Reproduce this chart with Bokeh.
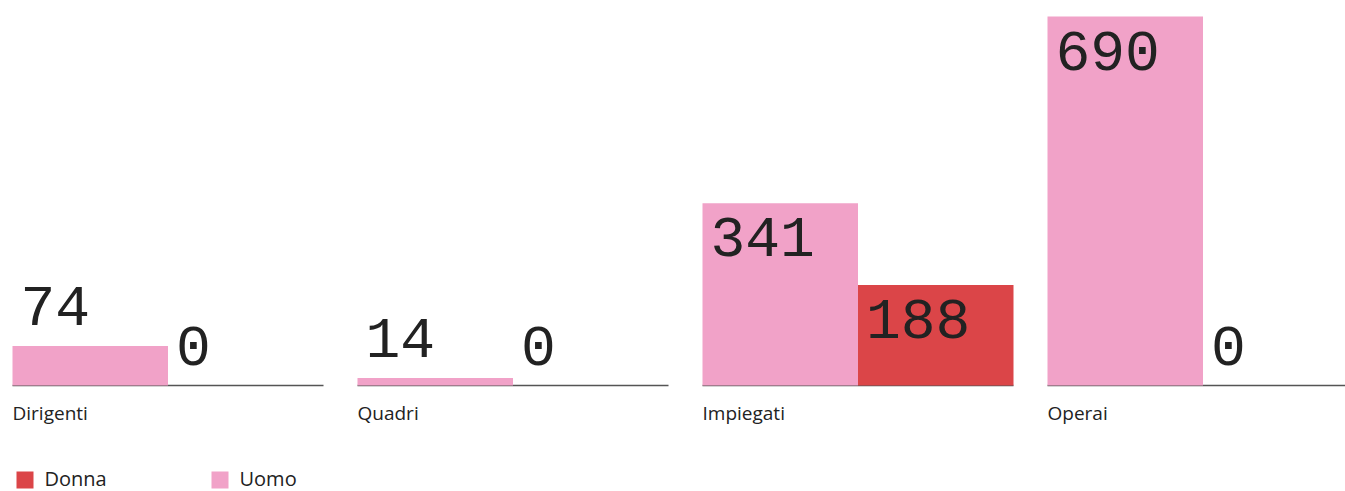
from bokeh.plotting import figure
from bokeh.models import Range1d
from bokeh.core.properties import value
from bokeh.embed import file_html
from bokeh.resources import INLINE

categories = ["Dirigenti", "Quadri", "Impiegati", "Operai"]
uomo = [74, 14, 341, 690]
donna = [0, 0, 188, 0]
series_names = ["Donna", "Uomo"]
colors = {"Uomo": "#F1A2C8", "Donna": "#DB4548"}

W, H = 1345, 491
BASE_Y = 385.0
K = 369.0 / 690.0
def y_of(page_y):
    return (BASE_Y - page_y) / K

p = figure(width=W, height=H, output_backend="svg", toolbar_location=None,
           x_range=Range1d(0, W), y_range=Range1d(y_of(H), y_of(0)),
           min_border=0, outline_line_color=None)
p.xaxis.visible = False
p.yaxis.visible = False
p.xgrid.visible = False
p.ygrid.visible = False
p.background_fill_color = "white"
p.border_fill_color = "white"

GROUP_X0, GROUP_STEP, BAR_W = 12, 345, 155.5
num_font = value("Liberation Mono")
lab_font = value("Open Sans")
NUM_FS = 58

for i, cat in enumerate(categories):
    gx = GROUP_X0 + i * GROUP_STEP
    p.segment(x0=[gx], y0=[0], x1=[gx + 2 * BAR_W], y1=[0], line_color="#555555", line_width=1.5)
    for j, (name, vals) in enumerate((("Uomo", uomo), ("Donna", donna))):
        v = vals[i]
        left = gx + j * BAR_W
        if v > 0:
            p.quad(left=[left], right=[left + BAR_W], bottom=[0], top=[v],
                   fill_color=colors[name], line_color=None)
        inside = v * K > 80
        p.text(x=[left + 8], y=[v], text=[str(v)], text_font=num_font,
               text_font_size=f"{NUM_FS}px", text_color="#222222",
               text_baseline="top", text_align="left",
               y_offset=15 if inside else -59)
    p.text(x=[gx], y=[0], text=[cat], text_font=lab_font, text_font_size="19px",
           text_color="#222222", text_baseline="top", y_offset=14)

leg_x = [16, 211]
for name, lx in zip(series_names, leg_x):
    p.quad(left=[lx], right=[lx + 17], top=[y_of(471)], bottom=[y_of(488)],
           fill_color=colors[name], line_color=None)
    p.text(x=[lx + 28], y=[y_of(464)], text=[name], text_font=lab_font,
           text_font_size="20px", text_color="#222222", text_baseline="top")

open("out.html", "w").write(file_html(p, INLINE))
